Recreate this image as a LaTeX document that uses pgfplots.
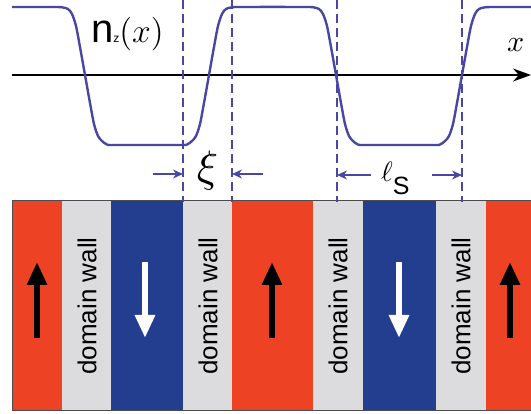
\documentclass[border=0pt]{standalone}
\usepackage{graphicx}
\usepackage{fontspec}
\setmainfont{Liberation Sans}
\usepackage{pgfplots}
\pgfplotsset{compat=1.18}
\usetikzlibrary{arrows.meta}
\definecolor{ccurve}{RGB}{72,72,162}
\definecolor{cred}{RGB}{238,66,36}
\definecolor{cblue}{RGB}{36,62,143}
\definecolor{cgray}{RGB}{220,220,222}
\begin{document}
\begin{tikzpicture}
\begin{axis}[scale only axis, width=531pt, height=414pt,
  xmin=0, xmax=531, ymin=0, ymax=414, y dir=reverse,
  hide axis, clip=false]
% stripes
\addplot[fill=cred, draw=none] coordinates {(12,200) (62,200) (62,410) (12,410)} -- cycle;
\addplot[fill=cgray, draw=none] coordinates {(62,200) (111,200) (111,410) (62,410)} -- cycle;
\addplot[fill=cblue, draw=none] coordinates {(111,200) (183,200) (183,410) (111,410)} -- cycle;
\addplot[fill=cgray, draw=none] coordinates {(183,200) (232,200) (232,410) (183,410)} -- cycle;
\addplot[fill=cred, draw=none] coordinates {(232,200) (313,200) (313,410) (232,410)} -- cycle;
\addplot[fill=cgray, draw=none] coordinates {(313,200) (363,200) (363,410) (313,410)} -- cycle;
\addplot[fill=cblue, draw=none] coordinates {(363,200) (436,200) (436,410) (363,410)} -- cycle;
\addplot[fill=cgray, draw=none] coordinates {(436,200) (486,200) (486,410) (436,410)} -- cycle;
\addplot[fill=cred, draw=none] coordinates {(486,200) (531,200) (531,410) (486,410)} -- cycle;
\addplot[draw=black!70, line width=0.8pt] coordinates {(531,200) (12,200) (12,410) (531,410)};
% domain wall labels
\node[rotate=90, inner sep=0pt, font=\fontsize{26}{30}\selectfont] at (axis cs:87,306) {domain wall};
\node[rotate=90, inner sep=0pt, font=\fontsize{26}{30}\selectfont] at (axis cs:208,306) {domain wall};
\node[rotate=90, inner sep=0pt, font=\fontsize{26}{30}\selectfont] at (axis cs:338,306) {domain wall};
\node[rotate=90, inner sep=0pt, font=\fontsize{26}{30}\selectfont] at (axis cs:461,306) {domain wall};
% spin arrows
\addplot[black, line width=6pt, -{Triangle[width=19pt,length=23pt]}] coordinates {(37,338) (37,262)};
\addplot[black, line width=6pt, -{Triangle[width=19pt,length=23pt]}] coordinates {(272,338) (272,262)};
\addplot[black, line width=6pt, -{Triangle[width=19pt,length=23pt]}] coordinates {(510,338) (510,262)};
\addplot[white, line width=6pt, -{Triangle[width=19pt,length=23pt]}] coordinates {(145,262) (145,338)};
\addplot[white, line width=6pt, -{Triangle[width=19pt,length=23pt]}] coordinates {(399,262) (399,338)};
% x axis
\addplot[black, line width=2pt, -{Stealth[length=18pt,width=13pt]}] coordinates {(12,75) (531,75)};
% curve
\addplot[ccurve, line width=2.4pt, smooth, tension=0.5] coordinates {
(12,7) (55,7) (63,7.5) (68,9) (72,14) (76,26) (80,47) (85,75) (90,103) (94,124) (98,136) (102,141) (107,144.5) (115,145)
(179,145) (187,144.5) (192,141) (196,136) (200,124) (204,103) (209,75) (214,47) (218,26) (222,14) (226,9) (231,7.5) (239,7)
(306,7) (314,7.5) (319,9) (323,14) (327,26) (331,47) (336,75) (341,103) (345,124) (349,136) (353,141) (358,144.5) (366,145)
(432,145) (440,144.5) (445,141) (449,136) (453,124) (457,103) (462,75) (467,47) (471,26) (475,14) (479,9) (484,7.5) (492,7)
(531,7)};
% dashed guides
\addplot[ccurve, line width=1.3pt, dash pattern=on 9pt off 5pt] coordinates {(183,0) (183,202)};
\addplot[ccurve, line width=1.3pt, dash pattern=on 9pt off 5pt] coordinates {(232,0) (232,202)};
\addplot[ccurve, line width=1.3pt, dash pattern=on 9pt off 5pt] coordinates {(337,0) (337,202)};
\addplot[ccurve, line width=1.3pt, dash pattern=on 9pt off 5pt] coordinates {(462,0) (462,202)};
% width arrows
\addplot[ccurve, line width=1.3pt, -{Stealth[length=10pt,width=9pt]}] coordinates {(153,174) (183,174)};
\addplot[ccurve, line width=1.3pt, -{Stealth[length=10pt,width=9pt]}] coordinates {(263,174) (232,174)};
\addplot[ccurve, line width=1.3pt, -{Stealth[length=10pt,width=9pt]}] coordinates {(371,175) (337,175)};
\addplot[ccurve, line width=1.3pt, -{Stealth[length=10pt,width=9pt]}] coordinates {(432,175) (462,175)};
% labels
\node[anchor=base west, inner sep=0pt] at (axis cs:91,43) {\fontsize{40}{40}\selectfont n\fontsize{12}{12}\selectfont z\scalebox{2.8}{$(x)$}};
\node[anchor=base west, inner sep=0pt] at (axis cs:507,52) {\scalebox{3}{$x$}};
\node[inner sep=0pt] at (axis cs:207.5,171) {\scalebox{4.4}{$\xi$}};
\node[anchor=base west, inner sep=0pt] at (axis cs:381,182) {\scalebox{2.8}{$\ell$}\raisebox{-13pt}{\fontsize{25}{25}\selectfont S}};
\end{axis}
\pgfresetboundingbox
\path (0,0) rectangle (531pt,414pt);
\end{tikzpicture}
\end{document}
